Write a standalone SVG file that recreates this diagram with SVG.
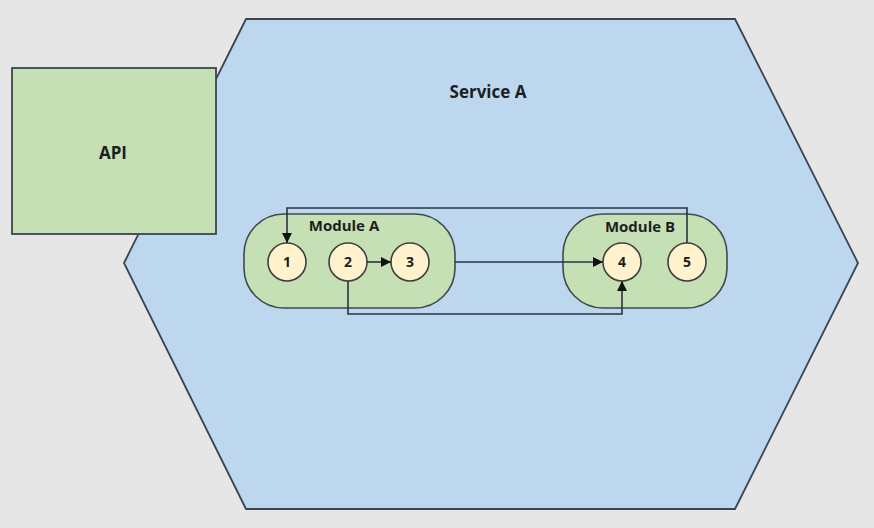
<svg xmlns="http://www.w3.org/2000/svg" width="874" height="528" viewBox="0 0 874 528">
<style>
.edge{fill:none;stroke:#2b3240;stroke-width:1.6}
.outline{stroke:#3b4452;stroke-width:1.8}
.mod{fill:#c5e0b4;stroke:#3f4a48;stroke-width:1.6}
.circ{fill:#fff2cc;stroke:#3f3f3f;stroke-width:1.6}
.t{font-family:"Open Sans","Liberation Sans",sans-serif;font-weight:bold;fill:#1e1e1e;text-anchor:middle}
.num{font-size:14px}
</style>
<defs>
<marker id="arr" viewBox="0 0 10 10" refX="10" refY="5" markerWidth="10" markerHeight="10" orient="auto" markerUnits="userSpaceOnUse">
<path d="M0,0 L10,5 L0,10 z" fill="#111"/>
</marker>
</defs>
<rect width="874" height="528" fill="#e7e6e6"/>
<g id="serviceA">
<polygon class="outline" points="246,19 735,19 858,263 735,509 246,509 124,263" fill="#bdd7ee"/>
<text class="t" x="488" y="98" font-size="17">Service A</text>
</g>
<g id="api">
<rect class="outline" x="12" y="68" width="204" height="166" fill="#c5e0b4"/>
<text class="t" x="113" y="159" font-size="17">API</text>
</g>
<g id="moduleA">
<rect class="mod" x="244" y="214" width="211" height="94" rx="40" ry="40"/>
<text class="t" x="344" y="231" font-size="15">Module A</text>
</g>
<g id="moduleB">
<rect class="mod" x="563" y="214" width="164" height="94" rx="40" ry="40"/>
<text class="t" x="640" y="232" font-size="15">Module B</text>
</g>
<g id="n1"><circle class="circ" cx="287" cy="262" r="19"/><text class="t num" x="287" y="267">1</text></g>
<g id="n2"><circle class="circ" cx="348" cy="262" r="19"/><text class="t num" x="348" y="267">2</text></g>
<g id="n3"><circle class="circ" cx="410" cy="262" r="19"/><text class="t num" x="410" y="267">3</text></g>
<g id="n4"><circle class="circ" cx="622" cy="262" r="19"/><text class="t num" x="622" y="267">4</text></g>
<g id="n5"><circle class="circ" cx="687" cy="262" r="19"/><text class="t num" x="687" y="267">5</text></g>
<g id="connectors">
<path class="edge" d="M687,243 V208 H287 V243" marker-end="url(#arr)"/>
<path class="edge" d="M367,262 H391" marker-end="url(#arr)"/>
<path class="edge" d="M455,262 H603" marker-end="url(#arr)"/>
<path class="edge" d="M348,281 V314 H622 V281" marker-end="url(#arr)"/>
</g>
</svg>
